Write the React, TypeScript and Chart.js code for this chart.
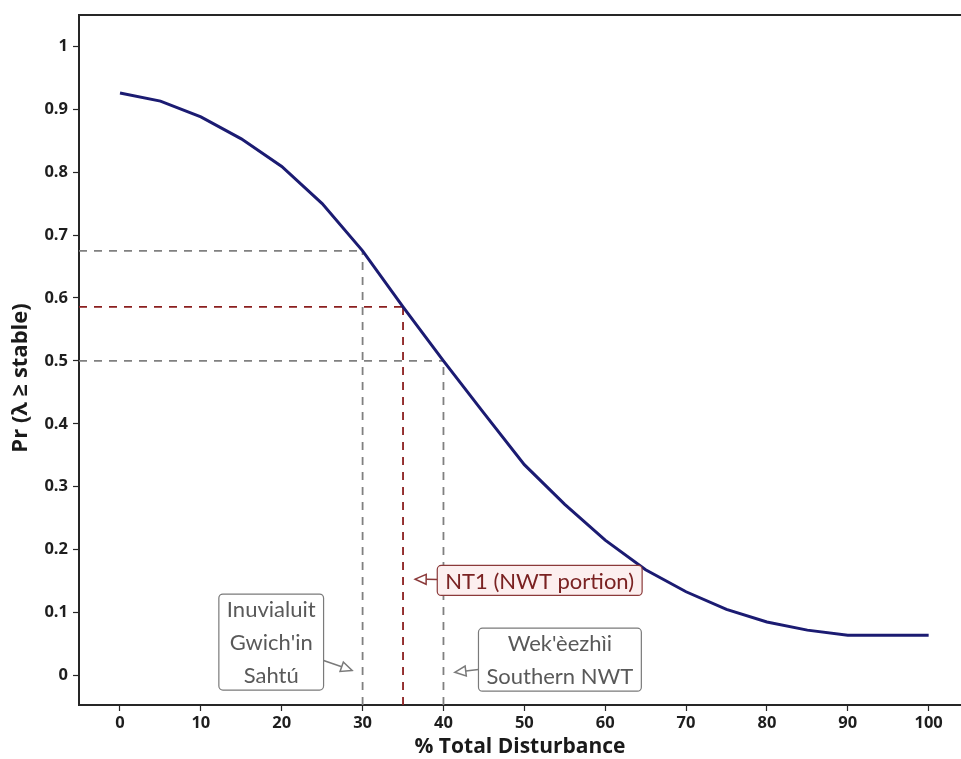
import React, { useEffect, useRef } from "react";
import { Chart, registerables } from "chart.js";

Chart.register(...registerables);

// ---- data ----
const xValues = [0, 5, 10, 15, 20, 25, 30, 35, 40, 45, 50, 55, 60, 65, 70, 75, 80, 85, 90, 95, 100];
const prValues = [0.926, 0.913, 0.888, 0.853, 0.809, 0.75, 0.675, 0.586, 0.5, 0.417, 0.335, 0.272, 0.215, 0.168, 0.133, 0.105, 0.085, 0.072, 0.064, 0.064, 0.064];

const xMin = -5.07;
const xMax = 104;
const yMin = -0.047;
const yMax = 1.05;
const xStep = 10;
const yStep = 0.1;

const xTitle = "% Total Disturbance";
const yTitle = "Pr (λ ≥ stable)";

// thresholds marked by dashed guides
const guideX = [30, 35, 40];
const guideColors = ["#808080", "#8b1f1f", "#808080"];

// annotation boxes
const annotationLines = [
  ["Inuvialuit", "Gwich'in", "Sahtú"],
  ["Wek'èezhìi", "Southern NWT"],
  ["NT1 (NWT portion)"],
];
const annotationBoxX = [18.7, 54.4, 51.9];
const annotationBoxY = [0.053, 0.025, 0.151];
const annotationTipX = [28.7, 41.4, 36.5];
const annotationTipY = [0.008, 0.005, 0.153];
const annotationText = ["#595959", "#595959", "#7a2222"];
const annotationEdge = ["#7a7a7a", "#7a7a7a", "#8b3a3a"];
const annotationFill = ["#ffffff", "#ffffff", "#fcefef"];

const overlayPlugin = {
  id: "overlay",
  beforeDatasetsDraw(chart: any) {
    const { ctx, chartArea, scales } = chart;
    const x = scales.x;
    const y = scales.y;
    ctx.save();
    ctx.lineWidth = 1.8;
    ctx.setLineDash([8, 7]);
    guideX.forEach((gx, i) => {
      const gy = prValues[xValues.indexOf(gx)];
      const px = x.getPixelForValue(gx);
      const py = y.getPixelForValue(gy);
      ctx.strokeStyle = guideColors[i];
      ctx.beginPath();
      ctx.moveTo(chartArea.left, py);
      ctx.lineTo(px, py);
      ctx.stroke();
      ctx.beginPath();
      ctx.moveTo(px, chartArea.bottom);
      ctx.lineTo(px, py);
      ctx.stroke();
    });
    ctx.restore();
  },
  afterDraw(chart: any) {
    const { ctx, chartArea, scales, width } = chart;
    const x = scales.x;
    const y = scales.y;
    ctx.save();
    // top frame line
    ctx.strokeStyle = "#262626";
    ctx.lineWidth = 2;
    ctx.beginPath();
    ctx.moveTo(chartArea.left - 1, chartArea.top);
    ctx.lineTo(width, chartArea.top);
    ctx.stroke();

    // annotations
    const lineGap = 33;
    ctx.font = "22px Lato";
    annotationLines.forEach((lines, i) => {
      const cx = x.getPixelForValue(annotationBoxX[i]);
      const cy = y.getPixelForValue(annotationBoxY[i]);
      const maxW = Math.max(...lines.map((l) => ctx.measureText(l).width));
      const w = maxW + 16;
      const h = lineGap * lines.length - 3;
      const tx = x.getPixelForValue(annotationTipX[i]);
      const ty = y.getPixelForValue(annotationTipY[i]);
      // arrow
      const dx = tx - cx;
      const dy = ty - cy;
      const t = Math.min(
        dx !== 0 ? w / 2 / Math.abs(dx) : Infinity,
        dy !== 0 ? h / 2 / Math.abs(dy) : Infinity
      );
      const sx = cx + dx * t;
      const sy = cy + dy * t;
      const len = Math.hypot(tx - sx, ty - sy);
      const ux = (tx - sx) / len;
      const uy = (ty - sy) / len;
      const headL = 11;
      const headW = 5;
      const bx = tx - ux * headL;
      const by = ty - uy * headL;
      ctx.setLineDash([]);
      ctx.strokeStyle = annotationEdge[i];
      ctx.lineWidth = 1.5;
      ctx.beginPath();
      ctx.moveTo(sx, sy);
      ctx.lineTo(bx, by);
      ctx.stroke();
      ctx.beginPath();
      ctx.moveTo(tx, ty);
      ctx.lineTo(bx - uy * headW, by + ux * headW);
      ctx.lineTo(bx + uy * headW, by - ux * headW);
      ctx.closePath();
      ctx.fillStyle = "#ffffff";
      ctx.fill();
      ctx.stroke();
      // box
      ctx.beginPath();
      ctx.roundRect(cx - w / 2, cy - h / 2, w, h, 4);
      ctx.fillStyle = annotationFill[i];
      ctx.fill();
      ctx.lineWidth = 1.2;
      ctx.stroke();
      // text
      ctx.fillStyle = annotationText[i];
      ctx.textAlign = "center";
      ctx.textBaseline = "middle";
      lines.forEach((l, k) => {
        ctx.fillText(l, cx, cy + (k - (lines.length - 1) / 2) * lineGap + 1);
      });
    });

    // y axis title
    ctx.translate(21, (chartArea.top + chartArea.bottom) / 2 + 18);
    ctx.rotate(-Math.PI / 2);
    ctx.font = "bold 22px 'Open Sans'";
    ctx.fillStyle = "#1a1a1a";
    ctx.textAlign = "center";
    ctx.textBaseline = "middle";
    ctx.fillText(yTitle, 0, 0);
    ctx.restore();
  },
};

export default function App() {
  const ref = useRef<HTMLCanvasElement | null>(null);
  useEffect(() => {
    document.body.style.margin = "0";
    const canvas = ref.current;
    if (!canvas) return;
    const chart = new Chart(canvas, {
      type: "line",
      data: {
        datasets: [
          {
            data: xValues.map((v, i) => ({ x: v, y: prValues[i] })),
            borderColor: "#1b1b72",
            borderWidth: 3,
            pointRadius: 0,
            tension: 0,
            fill: false,
          },
        ],
      },
      options: {
        animation: false,
        responsive: false,
        devicePixelRatio: 1,
        layout: { padding: { top: 7, right: 0, left: 0, bottom: 0 } },
        plugins: {
          legend: { display: false },
          tooltip: { enabled: false },
        },
        scales: {
          x: {
            type: "linear",
            min: xMin,
            max: xMax,
            afterFit: (s: any) => {
              s.height = 54;
            },
            border: { display: true, color: "#262626", width: 2 },
            grid: { drawOnChartArea: false, tickLength: 6, color: "#262626", tickWidth: 1.2 },
            ticks: {
              stepSize: xStep,
              includeBounds: false,
              padding: 2,
              color: "#1e1e1e",
              font: { family: "'Open Sans'", size: 16.5, weight: "bold" },
              maxRotation: 0,
            },
            title: {
              display: true,
              text: xTitle,
              color: "#1a1a1a",
              font: { family: "'Open Sans'", size: 21, weight: "bold", lineHeight: 1 },
              padding: { top: 0, bottom: 1 },
            },
          },
          y: {
            type: "linear",
            min: yMin,
            max: yMax,
            afterFit: (s: any) => {
              s.width = 79;
            },
            border: { display: true, color: "#262626", width: 2 },
            grid: { drawOnChartArea: false, tickLength: 6, color: "#262626", tickWidth: 1.2 },
            ticks: {
              stepSize: yStep,
              includeBounds: false,
              padding: 5,
              color: "#1e1e1e",
              font: { family: "'Open Sans'", size: 16.5, weight: "bold" },
              callback: (v: any) => String(Number(Number(v).toFixed(1))),
            },
          },
        },
      },
      plugins: [overlayPlugin],
    } as any);
    return () => chart.destroy();
  }, []);
  return <canvas ref={ref} width={961} height={759} style={{ display: "block" }} />;
}
